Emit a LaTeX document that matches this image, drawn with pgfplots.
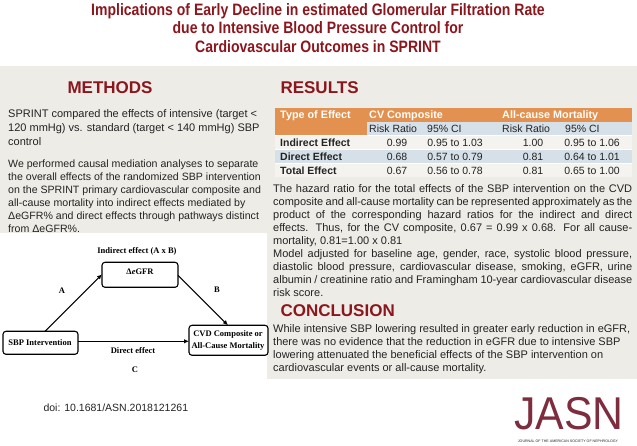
\documentclass[border=0pt]{standalone}
\usepackage{pgfplots}
\pgfplotsset{compat=1.18}
\usepackage{fontspec}
\setmainfont{Liberation Sans}
\newfontfamily\narrowbf[FakeStretch=0.85]{Liberation Sans}
\newfontfamily\timesf{Liberation Serif}
\usetikzlibrary{arrows.meta}
\definecolor{dred}{RGB}{140,22,30}
\definecolor{panel}{RGB}{238,236,231}
\definecolor{orng}{RGB}{226,145,80}
\definecolor{lblue}{RGB}{214,224,232}
\definecolor{lrow}{RGB}{245,243,239}
\definecolor{jasn}{RGB}{125,45,62}
\definecolor{txt}{RGB}{35,35,35}
\newcommand\fs[2]{\fontsize{#1}{#2}\selectfont}
\newcommand\jl[1]{\makebox[359pt][s]{#1}}
\begin{document}
\begin{tikzpicture}
\begin{axis}[width=637pt,height=451pt,scale only axis,xmin=0,xmax=637,ymin=0,ymax=451,
  y dir=reverse,hide axis,clip=false,
  every node/.append style={inner sep=0pt,outer sep=0pt}]
% panels
\fill[panel] (axis cs:0,69) rectangle (axis cs:270,236);
\fill[panel] (axis cs:267,69) rectangle (axis cs:637,382);
% title
\node[anchor=base,text=dred,font=\narrowbf\bfseries\fs{16.5}{18}] at (axis cs:318,18) {Implications of Early Decline in estimated Glomerular Filtration Rate};
\node[anchor=base,text=dred,font=\narrowbf\bfseries\fs{16.5}{18}] at (axis cs:318,36.5) {due to Intensive Blood Pressure Control for};
\node[anchor=base,text=dred,font=\narrowbf\bfseries\fs{16.5}{18}] at (axis cs:318,55) {Cardiovascular Outcomes in SPRINT};
% headings
\node[anchor=base,text=dred,font=\bfseries\fs{17}{18}] at (axis cs:110,96) {METHODS};
\node[anchor=base west,text=dred,font=\bfseries\fs{17}{18}] at (axis cs:277,96) {RESULTS};
\node[anchor=base west,text=dred,font=\bfseries\fs{17}{18}] at (axis cs:277,319) {CONCLUSION};
% methods text
\begin{scope}[every node/.style={anchor=base west,text=txt,font=\fs{11}{13},inner sep=0pt}]
\node at (axis cs:8,120) {SPRINT compared the effects of intensive (target <};
\node at (axis cs:8,134) {120 mmHg) vs. standard (target < 140 mmHg) SBP};
\node at (axis cs:8,148) {control};
\end{scope}
\begin{scope}[every node/.style={anchor=base west,text=txt,font=\fs{10.6}{13},inner sep=0pt}]
\node at (axis cs:8,170) {We performed causal mediation analyses to separate};
\node at (axis cs:8,183) {the overall effects of the randomized SBP intervention};
\node at (axis cs:8,196) {on the SPRINT primary cardiovascular composite and};
\node at (axis cs:8,209) {all-cause mortality into indirect effects mediated by};
\node at (axis cs:8,222) {ΔeGFR\% and direct effects through pathways distinct};
\node at (axis cs:8,235) {from ΔeGFR\%.};
\end{scope}
% table
\fill[orng] (axis cs:275,111) rectangle (axis cs:632,125);
\fill[orng] (axis cs:275,125) rectangle (axis cs:367,138);
\fill[lblue] (axis cs:367,125) rectangle (axis cs:632,138);
\fill[lrow] (axis cs:275,138) rectangle (axis cs:632,152);
\fill[lblue] (axis cs:275,152) rectangle (axis cs:632,166);
\fill[lrow] (axis cs:275,166) rectangle (axis cs:632,180);
\draw[white,line width=0.8pt] (axis cs:275,138) -- (axis cs:632,138);
\draw[white,line width=0.8pt] (axis cs:275,152) -- (axis cs:632,152);
\draw[white,line width=0.8pt] (axis cs:275,166) -- (axis cs:632,166);
\begin{scope}[every node/.style={anchor=base west,text=white,font=\bfseries\fs{10.8}{12},inner sep=0pt}]
\node at (axis cs:280,121.5) {Type of Effect};
\node at (axis cs:369,121.5) {CV Composite};
\node at (axis cs:502,121.5) {All-cause Mortality};
\end{scope}
\begin{scope}[every node/.style={anchor=base west,text=txt,font=\fs{10.5}{12},inner sep=0pt}]
\node at (axis cs:369,135) {Risk Ratio};
\node at (axis cs:427,135) {95\% CI};
\node at (axis cs:502,135) {Risk Ratio};
\node at (axis cs:565,135) {95\% CI};
\end{scope}
\begin{scope}[every node/.style={anchor=base west,text=txt,font=\bfseries\fs{10.5}{12},inner sep=0pt}]
\node at (axis cs:280,149) {Indirect Effect};
\node at (axis cs:280,163) {Direct Effect};
\node at (axis cs:280,177) {Total Effect};
\end{scope}
\begin{scope}[every node/.style={anchor=base,text=txt,font=\fs{10.5}{12},inner sep=0pt}]
\node at (axis cs:397,149) {0.99};
\node at (axis cs:455,149) {0.95 to 1.03};
\node at (axis cs:533,149) {1.00};
\node at (axis cs:592,149) {0.95 to 1.06};
\node at (axis cs:397,163) {0.68};
\node at (axis cs:455,163) {0.57 to 0.79};
\node at (axis cs:533,163) {0.81};
\node at (axis cs:592,163) {0.64 to 1.01};
\node at (axis cs:397,177) {0.67};
\node at (axis cs:455,177) {0.56 to 0.78};
\node at (axis cs:533,177) {0.81};
\node at (axis cs:592,177) {0.65 to 1.00};
\end{scope}
% results text
\begin{scope}[every node/.style={anchor=base west,text=txt,font=\fs{11}{13},inner sep=0pt}]
\node at (axis cs:273,195) {\jl{The hazard ratio for the total effects of the SBP intervention on the CVD}};
\node at (axis cs:273,208) {\jl{composite and all-cause mortality can be represented approximately as the}};
\node at (axis cs:273,221) {\jl{product of the corresponding hazard ratios for the indirect and direct}};
\node at (axis cs:273,234) {\jl{effects. Thus, for the CV composite, 0.67 = 0.99 x 0.68. For all cause-}};
\node at (axis cs:273,247) {mortality, 0.81=1.00 x 0.81};
\node at (axis cs:273,260) {\jl{Model adjusted for baseline age, gender, race, systolic blood pressure,}};
\node at (axis cs:273,273) {\jl{diastolic blood pressure, cardiovascular disease, smoking, eGFR, urine}};
\node at (axis cs:273,286) {\jl{albumin / creatinine ratio and Framingham 10-year cardiovascular disease}};
\node at (axis cs:273,299) {risk score.};
\node at (axis cs:273,335) {While intensive SBP lowering resulted in greater early reduction in eGFR,};
\node at (axis cs:273,348) {there was no evidence that the reduction in eGFR due to intensive SBP};
\node at (axis cs:273,361) {lowering attenuated the beneficial effects of the SBP intervention on};
\node at (axis cs:273,374) {cardiovascular events or all-cause mortality.};
\end{scope}
% diagram
\draw[rounded corners=3pt,line width=1.1pt,fill=white] (axis cs:102,265) rectangle (axis cs:178,290);
\draw[rounded corners=3pt,line width=1.1pt,fill=white] (axis cs:3,334) rectangle (axis cs:78,357);
\draw[rounded corners=3pt,line width=1.1pt,fill=white] (axis cs:189,328) rectangle (axis cs:268,358);
\draw[-{Latex[length=5pt,width=4.5pt]},line width=1.1pt] (axis cs:45,334) -- (axis cs:102,277);
\draw[-{Latex[length=5pt,width=4.5pt]},line width=1.1pt] (axis cs:178,278) -- (axis cs:228,328);
\draw[-{Latex[length=5pt,width=4.5pt]},line width=1.1pt] (axis cs:78,344) -- (axis cs:189,344);
\begin{scope}[every node/.style={anchor=center,text=black,font=\timesf\bfseries\fs{8.5}{10},inner sep=0pt}]
\node at (axis cs:137,254) {Indirect effect (A x B)};
\node at (axis cs:140,274) {Δ\textit{e}GFR};
\node at (axis cs:62,293) {A};
\node at (axis cs:217,292) {B};
\node at (axis cs:40,345) {SBP Intervention};
\node at (axis cs:228,337) {CVD Composite or};
\node at (axis cs:228,349) {All-Cause Mortality};
\node at (axis cs:133,353) {Direct effect};
\node at (axis cs:135,372) {C};
\end{scope}
% doi and logo
\node[anchor=base west,text=txt,font=\fs{10.5}{13}] at (axis cs:40,414) {doi: 10.1681/ASN.2018121261};
\node[anchor=base,text=jasn,font=\fs{46}{46}] at (axis cs:569,432) {\scalebox{0.93}[1]{JASN}};
\node[anchor=base,text=txt,font=\fs{3.6}{4}] at (axis cs:568,445) {JOURNAL OF THE AMERICAN SOCIETY OF NEPHROLOGY};
\end{axis}
\end{tikzpicture}
\end{document}
